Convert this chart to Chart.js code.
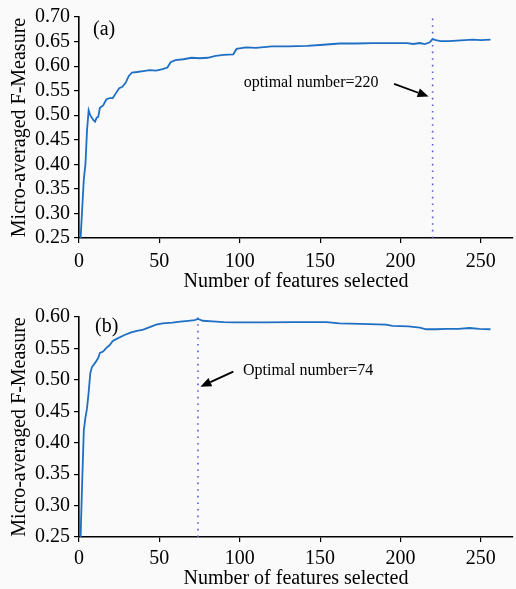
<!DOCTYPE html>
<html>
<head>
<meta charset="utf-8">
<title>Micro-averaged F-Measure vs number of features</title>
<script src="https://cdn.jsdelivr.net/npm/chart.js@4.4.1/dist/chart.umd.min.js"></script>
<style>
  html, body { margin: 0; padding: 0; background: #fafafa; }
  canvas { display: block; }
</style>
</head>
<body>
<canvas id="chart-a" width="516" height="292"></canvas>
<canvas id="chart-b" width="516" height="297"></canvas>
<script>
// panel (a) readings
const featuresA = [1, 2, 3, 4, 5, 6, 7, 8, 9, 10, 11, 12, 13, 15, 17, 19, 21, 23, 25, 27, 29, 31, 33, 36, 40, 44, 48, 52, 55, 57, 60, 65, 70, 75, 80, 85, 90, 96, 98, 104, 110, 120, 130, 142, 150, 162, 172, 183, 195, 204, 208, 212, 215, 218, 220, 222, 225, 230, 235, 240, 245, 250, 256];
const valuesA = [0.25, 0.31, 0.37, 0.40, 0.47, 0.51, 0.50, 0.495, 0.49, 0.487, 0.495, 0.497, 0.515, 0.52, 0.532, 0.535, 0.535, 0.545, 0.555, 0.558, 0.566, 0.58, 0.587, 0.588, 0.59, 0.592, 0.591, 0.594, 0.597, 0.608, 0.612, 0.614, 0.617, 0.616, 0.617, 0.621, 0.623, 0.624, 0.635, 0.638, 0.637, 0.640, 0.640, 0.641, 0.643, 0.646, 0.646, 0.647, 0.647, 0.647, 0.645, 0.647, 0.645, 0.648, 0.655, 0.653, 0.651, 0.651, 0.652, 0.653, 0.654, 0.653, 0.654];

// panel (b) readings
const featuresB = [1, 2, 3, 4, 5, 6, 7, 8, 10, 12, 13, 15, 17, 19, 21, 24, 28, 32, 36, 40, 44, 48, 52, 58, 63, 68, 72, 74, 77, 83, 90, 96, 105, 115, 133, 154, 162, 175, 191, 195, 205, 212, 216, 222, 229, 236, 243, 249, 256];
const valuesB = [0.25, 0.34, 0.42, 0.44, 0.455, 0.48, 0.51, 0.52, 0.527, 0.535, 0.543, 0.545, 0.551, 0.555, 0.562, 0.566, 0.571, 0.575, 0.578, 0.58, 0.584, 0.588, 0.590, 0.591, 0.5925, 0.594, 0.595, 0.597, 0.594, 0.593, 0.592, 0.5915, 0.5915, 0.5915, 0.592, 0.592, 0.590, 0.589, 0.588, 0.586, 0.585, 0.583, 0.5805, 0.5805, 0.581, 0.581, 0.5825, 0.581, 0.5805];

const xTicks = [0, 50, 100, 150, 200, 250];
const yTicksA = [0.25, 0.30, 0.35, 0.40, 0.45, 0.50, 0.55, 0.60, 0.65, 0.70];
const yTicksB = [0.25, 0.30, 0.35, 0.40, 0.45, 0.50, 0.55, 0.60];
const optimalA = 220;
const optimalB = 74;

const serif = "'Liberation Serif', 'Times New Roman', serif";
const lineBlue = '#1f6fc4';
const dotBlue = '#5a5ad8';

// text, arrow and panel letter drawn in data coordinates
const notesPlugin = {
  id: 'notes',
  afterDatasetsDraw(chart, args, opts) {
    const { ctx, scales: { x, y } } = chart;
    ctx.save();
    ctx.fillStyle = '#000';
    ctx.textBaseline = 'middle';
    ctx.textAlign = 'left';
    ctx.font = '20px ' + serif;
    ctx.fillText(opts.letter, x.getPixelForValue(opts.letterAt[0]), y.getPixelForValue(opts.letterAt[1]));
    ctx.font = '16px ' + serif;
    ctx.fillText(opts.text, x.getPixelForValue(opts.textAt[0]), y.getPixelForValue(opts.textAt[1]));

    const x1 = x.getPixelForValue(opts.arrowFrom[0]), y1 = y.getPixelForValue(opts.arrowFrom[1]);
    const x2 = x.getPixelForValue(opts.arrowTo[0]), y2 = y.getPixelForValue(opts.arrowTo[1]);
    const ang = Math.atan2(y2 - y1, x2 - x1);
    const headLen = 11, headW = 4.5;
    const bx = x2 - headLen * Math.cos(ang), by = y2 - headLen * Math.sin(ang);
    ctx.strokeStyle = '#000';
    ctx.lineWidth = 1.8;
    ctx.beginPath();
    ctx.moveTo(x1, y1);
    ctx.lineTo(bx, by);
    ctx.stroke();
    ctx.beginPath();
    ctx.moveTo(x2, y2);
    ctx.lineTo(bx + headW * Math.sin(ang), by - headW * Math.cos(ang));
    ctx.lineTo(bx - headW * Math.sin(ang), by + headW * Math.cos(ang));
    ctx.closePath();
    ctx.fill();
    ctx.restore();
  }
};

function makeChart(canvasId, feats, vals, optimal, yTicks, padTop, xHeight, tickPad, notes) {
  const ctx = document.getElementById(canvasId).getContext('2d');
  const yMax = yTicks[yTicks.length - 1];
  return new Chart(ctx, {
    type: 'line',
    data: {
      datasets: [{
        data: feats.map((f, i) => ({ x: f, y: vals[i] })),
        borderColor: lineBlue,
        borderWidth: 1.8,
        pointRadius: 0,
        tension: 0,
        fill: false
      }, {
        data: [{ x: optimal, y: 0.25 }, { x: optimal, y: yMax }],
        borderColor: dotBlue,
        borderWidth: 1.6,
        borderDash: [1.6, 5],
        pointRadius: 0,
        fill: false
      }]
    },
    options: {
      responsive: false,
      animation: false,
      layout: { padding: { top: padTop, right: 3, left: 0, bottom: 0 } },
      plugins: {
        legend: { display: false },
        tooltip: { enabled: false },
        notes: notes
      },
      scales: {
        x: {
          type: 'linear',
          min: 0,
          max: 270,
          afterFit: s => { s.height = xHeight; },
          afterBuildTicks: s => { s.ticks = xTicks.map(v => ({ value: v })); },
          grid: { drawOnChartArea: false, drawTicks: true, tickLength: 5, color: '#000', lineWidth: 1.2 },
          border: { color: '#000', width: 1.6 },
          ticks: { color: '#000', padding: tickPad, autoSkip: false, maxRotation: 0, font: { family: serif, size: 20 } },
          title: {
            display: true,
            text: 'Number of features selected',
            color: '#000',
            font: { family: serif, size: 20, lineHeight: 1 },
            padding: { top: 0, bottom: 0 }
          }
        },
        y: {
          min: 0.25,
          max: yMax,
          afterFit: s => { s.width = 79; },
          afterBuildTicks: s => { s.ticks = yTicks.map(v => ({ value: v })); },
          grid: { drawOnChartArea: false, drawTicks: true, tickLength: 5, color: '#000', lineWidth: 1.2 },
          border: { color: '#000', width: 1.6 },
          ticks: {
            color: '#000',
            padding: 4,
            autoSkip: false,
            font: { family: serif, size: 20 },
            callback: v => v.toFixed(2)
          },
          title: {
            display: true,
            text: 'Micro-averaged F-Measure',
            color: '#000',
            font: { family: serif, size: 20, lineHeight: 1 },
            padding: { top: 10, bottom: 0 }
          }
        }
      }
    },
    plugins: [notesPlugin]
  });
}

makeChart('chart-a', featuresA, valuesA, optimalA, yTicksA, 17, 54, 7, {
  letter: '(a)', letterAt: [8.7, 0.674],
  text: 'optimal number=220', textAt: [102.5, 0.567],
  arrowFrom: [196, 0.564], arrowTo: [217.5, 0.538]
});

makeChart('chart-b', featuresB, valuesB, optimalB, yTicksB, 25, 52, 5, {
  letter: '(b)', letterAt: [10, 0.585],
  text: 'Optimal number=74', textAt: [102, 0.514],
  arrowFrom: [96, 0.513], arrowTo: [75.5, 0.489]
});
</script>
</body>
</html>
